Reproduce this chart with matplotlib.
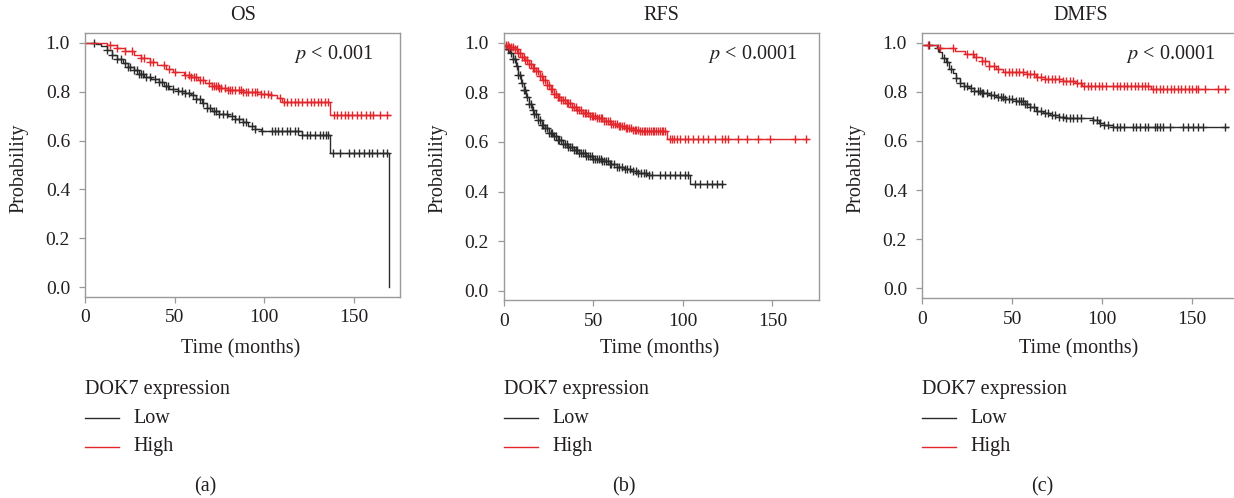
import numpy as np
import matplotlib
matplotlib.use("Agg")
import matplotlib.pyplot as plt
from matplotlib.lines import Line2D

plt.rcParams['font.family'] = ['Liberation Serif', 'DejaVu Serif']

# ---------------- data ----------------
titles = ["OS", "RFS", "DMFS"]
pvals = ["< 0.001", "< 0.0001", "< 0.0001"]
panel_tags = ["(a)", "(b)", "(c)"]
xticks = [0, 50, 100, 150]
yticks = [0.0, 0.2, 0.4, 0.6, 0.8, 1.0]
legend_title = "DOK7 expression"
legend_labels = ["Low", "High"]

# OS
a_low_t = [0, 6, 9, 12, 15, 18, 21, 24, 27, 30, 33, 37, 41, 44, 47, 52, 56, 59, 62, 65, 68, 71, 75, 80, 84, 88, 91, 95, 98, 121, 137, 169.6]
a_low_s = [1.0, 0.995, 0.985, 0.97, 0.952, 0.935, 0.918, 0.902, 0.887, 0.872, 0.86, 0.85, 0.838, 0.825, 0.812, 0.804, 0.795, 0.785, 0.77, 0.752, 0.735, 0.72, 0.71, 0.702, 0.69, 0.675, 0.66, 0.648, 0.64, 0.623, 0.55, 0.0]
a_low_c = [5, 12, 15, 18, 20, 22, 24, 25, 27, 29, 30, 31, 32, 34, 36, 39, 41, 43, 45, 46, 49, 52, 54, 56, 58, 60, 62, 64, 66, 68, 70, 72, 73, 75, 77, 79, 82, 84, 86, 88, 90, 93, 95, 98.7, 104.3, 106.2, 108, 109.9, 112.7, 114.6, 117.4, 119.2, 121, 123.9, 125.7, 128.5, 131.3, 133.2, 134.7, 136, 138.8, 142.5, 147.2, 150, 152.8, 155.6, 158.4, 160.2, 163, 166.7, 168.6]
a_high_t = [0, 12, 18, 22, 27, 31, 36, 40, 45, 49, 55, 59, 63, 67, 71, 75, 80, 88, 98, 104, 107, 110, 137, 170.5]
a_high_s = [1.0, 0.99, 0.98, 0.967, 0.952, 0.938, 0.922, 0.909, 0.893, 0.882, 0.87, 0.858, 0.847, 0.835, 0.824, 0.815, 0.806, 0.798, 0.792, 0.785, 0.775, 0.758, 0.705, 0.705]
a_high_c = [14, 18, 22, 26, 31, 33, 36, 38, 44, 47, 50, 56, 58, 59, 61, 62, 64, 66, 69, 71, 72, 73, 74, 75, 76, 78, 80, 81, 82, 84, 86, 87, 88, 90, 91, 93, 95, 96, 98, 100, 102, 104, 109, 111, 113, 115, 117, 119, 121, 124, 126, 128, 130, 132, 134, 136, 139, 141, 143, 145, 147, 149, 152, 154, 157, 159, 161, 165, 169]

# RFS
b_low_t = [0, 2, 3.5, 5, 6.5, 8, 9.5, 11, 12.5, 14, 15.5, 17, 19, 21, 23, 25, 27.5, 30, 33, 36, 39, 42, 46, 50, 55, 59, 63, 67, 71, 75, 80, 104, 122.6]
b_low_s = [0.986, 0.975, 0.96, 0.935, 0.905, 0.87, 0.838, 0.808, 0.78, 0.753, 0.73, 0.712, 0.69, 0.67, 0.655, 0.637, 0.623, 0.607, 0.592, 0.58, 0.568, 0.557, 0.545, 0.532, 0.522, 0.512, 0.5, 0.49, 0.482, 0.476, 0.468, 0.431, 0.431]
b_low_c = [1, 2, 3, 4, 5, 6, 7, 8, 9, 10, 11, 12, 13, 14, 15, 16, 17, 18, 19, 20, 21, 22, 23, 24, 25, 26, 27, 28, 29, 30, 31, 32, 33, 34, 35, 36, 37, 38, 39, 40, 41, 42, 43, 44, 45, 46, 47, 48, 49, 50, 51, 52, 53, 54, 55, 56, 57, 58, 59, 60, 61.5, 63, 64.5, 66, 67.5, 69, 70.5, 72, 73.5, 75, 76.5, 78, 79.5, 81, 82.5, 87, 90, 92.8, 95.6, 98.4, 101, 103, 106.8, 109.5, 113.5, 116.3, 119, 121.7]
b_high_t = [0, 3, 6, 8, 10, 12, 14, 16, 18, 20, 22, 24, 26, 28, 30, 32, 35, 38, 41, 44, 48, 52, 56, 60, 64, 68, 72, 76, 91, 170]
b_high_s = [0.993, 0.985, 0.975, 0.96, 0.945, 0.93, 0.915, 0.9, 0.887, 0.868, 0.85, 0.832, 0.812, 0.795, 0.782, 0.77, 0.757, 0.742, 0.728, 0.718, 0.706, 0.695, 0.684, 0.672, 0.664, 0.657, 0.65, 0.645, 0.614, 0.614]
b_high_c = [1, 2, 3, 4, 5, 6, 7, 8, 9, 10, 11, 12, 13, 14, 15, 16, 17, 18, 19, 20, 21, 22, 23, 24, 25, 26, 27, 28, 29, 30, 31, 32, 33, 34, 35, 36, 37, 38, 39, 40, 41, 42, 43, 44, 45, 46, 47, 48, 49, 50, 51, 52, 53, 54, 55, 56, 57, 58, 59, 60, 61, 62, 63, 64, 65, 66, 67, 68, 69, 70, 71, 72, 73, 74, 75, 76, 77, 78, 79, 80, 81, 82, 83, 84, 85, 86, 87, 88, 89, 90, 92.8, 94, 95, 96.5, 98.4, 101, 103, 105.8, 108.6, 111.4, 114.2, 118, 121.7, 123.5, 125.4, 131, 135.6, 142, 148.7, 162.7, 169]

# DMFS
c_low_t = [0, 8, 9.5, 11, 13, 15, 17, 19, 21, 23, 26, 29, 33, 37, 41, 46, 52, 57, 60, 63, 67, 71, 76, 80, 95, 98, 101, 106, 170]
c_low_s = [0.99, 0.98, 0.962, 0.94, 0.92, 0.895, 0.877, 0.855, 0.838, 0.826, 0.815, 0.805, 0.797, 0.788, 0.78, 0.77, 0.762, 0.75, 0.738, 0.722, 0.712, 0.705, 0.698, 0.693, 0.685, 0.675, 0.665, 0.658, 0.658]
c_low_c = [4, 9, 12, 14, 16, 19, 21, 23, 25, 27, 29, 31, 32, 33, 34, 36, 38, 40, 42, 44, 45, 46, 48, 50, 52, 54, 55, 56, 57, 58, 60, 62, 64, 66, 68, 70, 72, 74, 76, 78, 80, 82, 84, 86, 88, 95, 97, 99, 101, 103, 106, 108, 110, 112, 117.2, 119, 120.9, 123.7, 125.5, 129.2, 130.5, 132, 133.9, 137.6, 145, 147.8, 150.6, 153.4, 156.2, 168.2]
c_high_t = [0, 9, 18, 24, 29, 33, 37, 41, 45, 58, 63, 68, 78, 85, 89, 127, 170]
c_high_s = [0.99, 0.98, 0.968, 0.955, 0.942, 0.925, 0.905, 0.893, 0.882, 0.872, 0.86, 0.852, 0.845, 0.836, 0.826, 0.812, 0.812]
c_high_c = [3, 10, 17, 25, 28, 30, 33, 35, 37, 40, 42, 46, 48, 50, 52, 54, 56, 58, 60, 62, 64, 66, 68, 70, 72, 74, 76, 78, 80, 82, 84, 86, 88, 90, 92, 94, 96, 98, 100, 102, 106, 108, 110, 112, 113.5, 116, 118, 120, 122, 124, 125.4, 128, 130, 132, 134, 136, 138, 140, 142, 144, 146, 148, 150, 152, 153.4, 157.1, 164.5, 168.2]

series = [
    [(a_low_t, a_low_s, a_low_c), (a_high_t, a_high_s, a_high_c)],
    [(b_low_t, b_low_s, b_low_c), (b_high_t, b_high_s, b_high_c)],
    [(c_low_t, c_low_s, c_low_c), (c_high_t, c_high_s, c_high_c)],
]

# ---------------- style / layout ----------------
W, H = 1234, 498
LOW_C = "#2b2b2b"
HIGH_C = "#e3262b"
TXT = "#231f20"
SPINE = "#999999"

# axes boxes in pixels: left, right, top, bottom
boxes = [(85.3, 400.0, 33.0, 297.0),
         (504.0, 819.0, 33.0, 300.5),
         (922.3, 1239.0, 33.0, 298.0)]
p_right = [0.915, 0.93, 0.924]

fig = plt.figure(figsize=(W / 100, H / 100), dpi=100)


def fx(x):
    return x / W


def fy(y):
    return 1 - y / H


def step_value(t, s, x):
    i = np.searchsorted(np.asarray(t), x, side='right') - 1
    return np.asarray(s)[np.clip(i, 0, len(s) - 1)]


for k, (l, r, t, b) in enumerate(boxes):
    ax = fig.add_axes([fx(l), fy(b), (r - l) / W, (b - t) / H])
    for (tt, ss, cc), col in zip(series[k], [LOW_C, HIGH_C]):
        ax.step(tt, ss, where='post', color=col, lw=1.0)
        cc = np.asarray(cc, dtype=float)
        ax.plot(cc, step_value(tt, ss, cc), ls='none', marker='+',
                ms=6, mew=1.0, color=col)
    ax.set_xlim(0, 176)
    ax.set_ylim(-0.04, 1.04)
    ax.set_xticks(xticks)
    ax.set_yticks(yticks)
    ax.set_yticklabels([f"{v:.1f}" for v in yticks])
    ax.tick_params(axis='both', colors=SPINE, labelcolor=TXT, labelsize=14,
                   length=4, width=0.9)
    ax.tick_params(axis='y', pad=7)
    ax.tick_params(axis='x', pad=5)
    for sp in ax.spines.values():
        sp.set_color(SPINE)
        sp.set_linewidth(1.0)
    # title
    fig.text(fx((l + r) / 2), fy(16), titles[k], ha='center', va='center',
             fontsize=14.5, color=TXT)
    # p value
    ax.text(p_right[k], 0.92, r"$\it{p}$" + " " + pvals[k],
            transform=ax.transAxes, ha='right', va='center', fontsize=14.5,
            color=TXT, math_fontfamily='stix')
    # axis labels
    fig.text(fx(l - 66), fy(168), "Probability", rotation=90, ha='center',
             va='center', fontsize=14.5, color=TXT)
    fig.text(fx((l + r) / 2 - 2), fy(349), "Time (months)", ha='center',
             va='center', fontsize=14.5, color=TXT)
    # legend
    fig.text(fx(l), fy(389), legend_title, ha='left', va='center',
             fontsize=14.5, color=TXT)
    for j, (lab, col) in enumerate(zip(legend_labels, [LOW_C, HIGH_C])):
        yy = 418 + j * 28.5
        fig.add_artist(Line2D([fx(l), fx(l + 34)], [fy(yy), fy(yy)],
                              color=col, lw=1.0, transform=fig.transFigure))
        fig.text(fx(l + 48), fy(yy), lab, ha='left', va='center',
                 fontsize=14.5, color=TXT)
    fig.text(fx(l + 120), fy(487), panel_tags[k], ha='center', va='center',
             fontsize=14.5, color=TXT)

fig.savefig("out.png", dpi=100)
